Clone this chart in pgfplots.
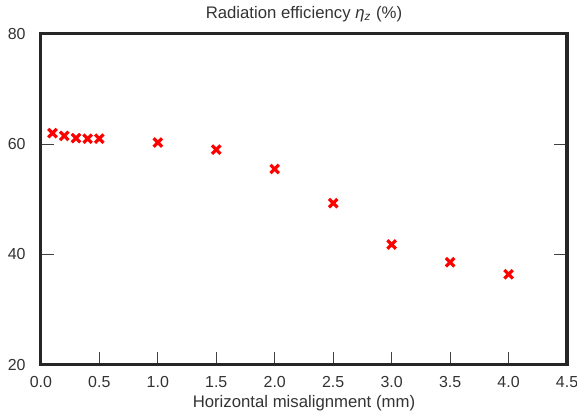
\documentclass[border=0pt]{standalone}
\usepackage{fontspec}
\setmainfont{Liberation Sans}
\usepackage{pgfplots}
\pgfplotsset{compat=1.18}
\begin{document}
\begin{tikzpicture}
\begin{axis}[
  scale only axis, width=264pt, height=166pt,
  xmin=0, xmax=4.5, ymin=20, ymax=80,
  xtick={0,0.5,...,4.5}, ytick={20,40,60,80},
  xticklabel style={anchor=base, yshift=-11.5pt, /pgf/number format/.cd, fixed, fixed zerofill, precision=1},
  /pgf/number format/assume math mode=true,
  tick align=inside, major tick length=6.5pt,
  xtick pos=bottom, ytick pos=both,
  tick style={black!75, line width=0.5pt},
  axis line style={line width=1.6pt, black!85},
  tick label style={font=\fontsize{8}{9.5}\selectfont, text=black!80},
  yticklabel style={anchor=east, inner sep=0pt, xshift=-7.5pt},
  label style={font=\fontsize{8.4}{10}\selectfont, text=black!80},
  title style={font=\fontsize{8.4}{10}\selectfont, text=black!80,
    at={(axis description cs:0.5,1)}, anchor=base, yshift=1.5pt},
  title={Radiation efficiency \textit{η\textsubscript{z}} (\%)},
  xlabel={Horizontal misalignment (mm)},
  xlabel style={at={(axis description cs:0.5,0)}, anchor=base, yshift=-21.5pt},
]
\addplot[only marks, mark=x, mark size=3pt, red, line width=1.6pt] coordinates {
  (0.1,62.0) (0.2,61.5) (0.3,61.1) (0.4,61.0) (0.5,61.0)
  (1.0,60.3) (1.5,59.0) (2.0,55.5) (2.5,49.3) (3.0,41.8)
  (3.5,38.6) (4.0,36.4) };
\end{axis}
\pgfresetboundingbox
\path[use as bounding box] ([xshift=-20.5pt,yshift=-25.5pt]current axis.south west)
  rectangle ([xshift=5pt,yshift=17pt]current axis.north east);
\end{tikzpicture}
\end{document}
